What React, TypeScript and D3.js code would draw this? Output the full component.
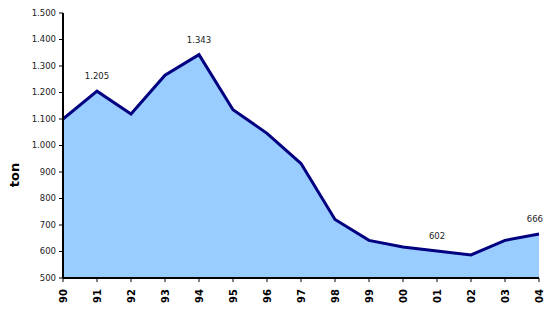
import React from 'react';
import * as d3 from 'd3';

const years = ['1990', '1991', '1992', '1993', '1994', '1995', '1996', '1997', '1998', '1999', '2000', '2001', '2002', '2003', '2004'];
const values = [1100, 1205, 1119, 1265, 1343, 1135, 1046, 932, 721, 642, 617, 602, 587, 642, 666];
const labelled = [1, 4, 11, 14];
const yTicks = [500, 600, 700, 800, 900, 1000, 1100, 1200, 1300, 1400, 1500];

const W = 544;
const H = 309;
const left = 63;
const right = 539;
const top = 13;
const bottom = 278;

const fmt = d3.formatLocale({ decimal: ',', thousands: '.', grouping: [3], currency: ['', ''] }).format(',d');

const App: React.FC = () => {
  const x = d3.scalePoint<string>().domain(years).range([left, right]);
  const y = d3.scaleLinear().domain([500, 1500]).range([bottom, top]);

  const pts = years.map((yr, i) => ({ yr, v: values[i] }));
  const area = d3.area<typeof pts[0]>()
    .x(d => x(d.yr)!)
    .y0(bottom)
    .y1(d => y(d.v));
  const line = d3.line<typeof pts[0]>()
    .x(d => x(d.yr)!)
    .y(d => y(d.v));

  return (
    <svg width={W} height={H} style={{ position: 'absolute', left: 0, top: 0 }} fontFamily="DejaVu Sans">
      <rect width={W} height={H} fill="#fff" />
      <path d={area(pts)!} fill="#99CCFF" />
      <path d={line(pts)!} fill="none" stroke="#000080" strokeWidth={3} strokeLinejoin="miter" />

      {/* y axis */}
      <line x1={left} x2={left} y1={top} y2={bottom} stroke="#000" strokeWidth={2} />
      {yTicks.map(t => (
        <g key={t}>
          <line x1={left - 4} x2={left} y1={y(t)} y2={y(t)} stroke="#000" strokeWidth={1} />
          <text x={left - 7} y={y(t)} dy="0.35em" textAnchor="end" fontSize={8.5} fill="#222">{fmt(t)}</text>
        </g>
      ))}

      {/* x axis */}
      <line x1={left} x2={right} y1={bottom} y2={bottom} stroke="#000" strokeWidth={2} />
      {years.map(yr => (
        <g key={yr}>
          <line x1={x(yr)} x2={x(yr)} y1={bottom} y2={bottom + 4} stroke="#000" strokeWidth={1} />
          <text transform={`translate(${Math.min(x(yr)! + 3.5, W - 1)},${bottom + 11}) rotate(-90)`} textAnchor="end"
            fontSize={10} fontWeight="bold" fill="#000">{yr.slice(2)}</text>
        </g>
      ))}

      {/* data labels */}
      {labelled.map(i => {
        const px = x(years[i])!;
        const atEdge = px + 10 > W;
        return (
          <text key={i} x={atEdge ? W - 1 : px} y={y(values[i]) - 12} textAnchor={atEdge ? 'end' : 'middle'}
            fontSize={8.5} fill="#222">
            {fmt(values[i])}
          </text>
        );
      })}

      <text transform={`translate(19,175) rotate(-90)`} textAnchor="middle" fontSize={13} fontWeight="bold" fill="#000">ton</text>
    </svg>
  );
};

export default App;
